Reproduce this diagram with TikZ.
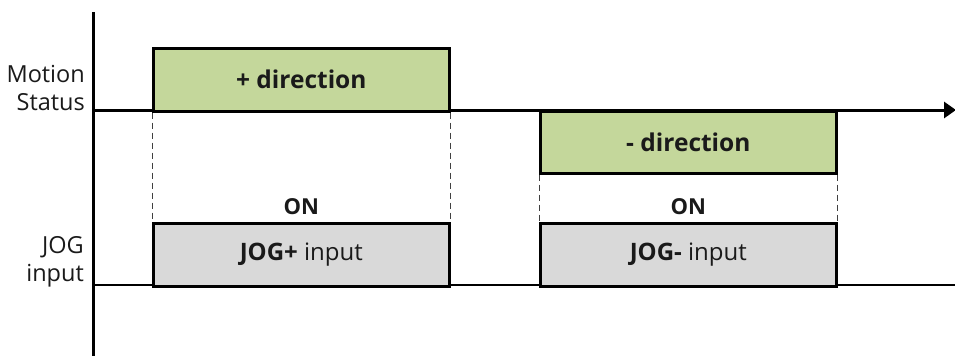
\documentclass[tikz,border=0pt]{standalone}
\usepackage{fontspec}
\setmainfont{Open Sans}
\usetikzlibrary{arrows.meta}
\definecolor{dirgreen}{HTML}{C4D79B}
\definecolor{inpgray}{HTML}{D9D9D9}
\definecolor{lbl}{HTML}{1A1A1A}
\begin{document}
\begin{tikzpicture}[x=1pt,y=-1pt,
  sigbox/.style={draw=black,line width=2.6pt,inner sep=0pt,text=lbl,font=\fontsize{24}{28}\selectfont},
  dirbox/.style={sigbox,fill=dirgreen,font=\fontsize{24.5}{28}\selectfont\bfseries},
  inbox/.style={sigbox,fill=inpgray},
  axisline/.style={line width=3pt},
  guide/.style={draw=black!75,line width=1pt,dash pattern=on 6pt off 4pt},
  sidelabel/.style={align=right,anchor=east,inner sep=0pt,text=lbl,font=\fontsize{23.5}{27.5}\selectfont},
  onlabel/.style={anchor=south,inner sep=0pt,text=lbl,font=\fontsize{22}{26}\selectfont\bfseries}
]
\useasboundingbox (0,0) rectangle (955,356);
% axes
\coordinate (vtop) at (93,12);
\coordinate (vbot) at (93,356);
\coordinate (m0) at (93,110);
\coordinate (mend) at (956,110);
\coordinate (j0) at (93,285);
\coordinate (jend) at (955,285);
\draw[axisline] (vtop) -- (vbot);
\draw[axisline,-{Triangle[length=12pt,width=16pt]}] (m0) -- (mend);
\draw[axisline,line width=2.6pt] (j0) -- (jend);
% direction boxes
\node[dirbox,minimum width=296pt,minimum height=63pt,anchor=north west] (pdir) at (152,47)
  {+ direction};
\node[dirbox,minimum width=296pt,minimum height=62pt,anchor=north west] (mdir) at (539,110)
  {- direction};
% input boxes
\node[inbox,minimum width=296pt,minimum height=63pt,anchor=north west] (pin) at (152,222)
  {\textbf{JOG+} input};
\node[inbox,minimum width=296pt,minimum height=63pt,anchor=north west] (min) at (539,222)
  {\textbf{JOG-} input};
% guides
\draw[guide] (pdir.south west) -- (pin.north west);
\draw[guide] (pdir.south east) -- (pin.north east);
\draw[guide] (mdir.south west) -- (min.north west);
\draw[guide] (mdir.south east) -- (min.north east);
% ON labels
\node[onlabel] (on1) at ([yshift=7pt]pin.north) {ON};
\node[onlabel] (on2) at ([yshift=7pt]min.north) {ON};
% side labels
\node[sidelabel] (ms) at (85,88) {Motion\\Status};
\node[sidelabel] (ji) at (84,262) {JOG\\input};
\end{tikzpicture}
\end{document}
